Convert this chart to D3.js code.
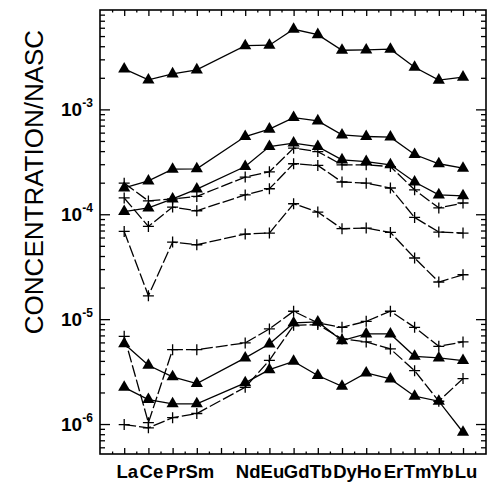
<!DOCTYPE html>
<html>
<head>
<meta charset="utf-8">
<script src="https://cdn.jsdelivr.net/npm/d3@7"></script>
<style>
  body { margin: 0; background: #fff; }
  text { font-family: Arial, "Liberation Sans", sans-serif; fill: #000; }
</style>
</head>
<body>
<div id="chart"></div>
<script>
// rare earth labels and their slot along the axis (slot 4 is left empty)
const elements = ["La", "Ce", "Pr", "Sm", "Nd", "Eu", "Gd", "Tb", "Dy", "Ho", "Er", "Tm", "Yb", "Lu"];
const slots = [0, 1, 2, 3, 5, 6, 7, 8, 9, 10, 11, 12, 13, 14];
const decades = [1e-6, 1e-5, 1e-4, 1e-3];

// triangle series
const tri1 = [2.43e-3, 1.91e-3, 2.18e-3, 2.38e-3, 4.05e-3, 4.09e-3, 5.8e-3, 5.16e-3, 3.66e-3, 3.69e-3, 3.75e-3, 2.52e-3, 1.9e-3, 2.03e-3];
const tri2 = [1.78e-4, 2.08e-4, 2.69e-4, 2.71e-4, 5.51e-4, 6.48e-4, 8.35e-4, 7.77e-4, 5.71e-4, 5.51e-4, 5.44e-4, 3.71e-4, 3.03e-4, 2.75e-4];
const tri3 = [1.06e-4, 1.15e-4, 1.4e-4, 1.74e-4, 2.85e-4, 4.42e-4, 4.77e-4, 4.42e-4, 3.3e-4, 3.18e-4, 2.96e-4, 2.03e-4, 1.53e-4, 1.5e-4];
const tri4 = [5.84e-6, 3.63e-6, 2.82e-6, 2.43e-6, 4.27e-6, 5.8e-6, 9.2e-6, 9.4e-6, 6.24e-6, 7.23e-6, 7.23e-6, 4.42e-6, 4.27e-6, 4.03e-6];
const tri5 = [2.24e-6, 1.71e-6, 1.56e-6, 1.56e-6, 2.47e-6, 3.3e-6, 3.96e-6, 2.9e-6, 2.29e-6, 3.07e-6, 2.69e-6, 1.84e-6, 1.65e-6, 8.35e-7];

// plus series
const plus1 = [1.98e-4, 1.34e-4, 1.4e-4, 1.48e-4, 2.26e-4, 2.54e-4, 4.27e-4, 3.96e-4, 2.96e-4, 2.96e-4, 2.85e-4, 1.71e-4, 1.15e-4, 1.28e-4];
const plus2 = [1.43e-4, 7.65e-5, 1.17e-4, 1.08e-4, 1.53e-4, 1.75e-4, 3.03e-4, 2.92e-4, 2.03e-4, 1.98e-4, 1.78e-4, 9.32e-5, 6.77e-5, 6.62e-5];
const plus3 = [6.86e-5, 1.67e-5, 5.43e-5, 5.12e-5, 6.48e-5, 6.62e-5, 1.26e-4, 1.05e-4, 7.28e-5, 7.39e-5, 6.71e-5, 3.83e-5, 2.26e-5, 2.65e-5];
const plus4 = [6.86e-6, 1.03e-6, 5.12e-6, 5.12e-6, 5.93e-6, 8.07e-6, 1.19e-5, 9.2e-6, 8.35e-6, 9.53e-6, 1.19e-5, 8.35e-6, 5.51e-6, 6.07e-6];
const plus5 = [9.89e-7, 9.2e-7, 1.15e-6, 1.26e-6, 2.24e-6, 4.05e-6, 8.73e-6, 8.87e-6, 6.48e-6, 6.07e-6, 5.2e-6, 3.23e-6, 1.65e-6, 2.71e-6];

const series = [
    { values: tri1, mark: "tri" }, { values: tri2, mark: "tri" }, { values: tri3, mark: "tri" },
    { values: tri4, mark: "tri" }, { values: tri5, mark: "tri" },
    { values: plus1, mark: "plus" }, { values: plus2, mark: "plus" }, { values: plus3, mark: "plus" },
    { values: plus4, mark: "plus" }, { values: plus5, mark: "plus" }
];

const width = 487, height = 484;
const plotLeft = 100, plotRight = 486, plotTop = 10, plotBottom = 454;

const svg = d3.select("#chart").append("svg")
    .attr("width", width)
    .attr("height", height);

const x = d3.scaleLinear().domain([-1, 14.95]).range([plotLeft, plotRight]);
const y = d3.scaleLog().domain([5.18e-7, 8.86e-3]).range([plotBottom, plotTop]);

// minor ticks on the log axis: 2..9 of every decade inside the domain
const minorY = [];
[1e-7, 1e-6, 1e-5, 1e-4, 1e-3].forEach(d => {
    for (let k = 2; k <= 9; k++) {
        const v = d * k;
        if (v >= y.domain()[0] && v <= y.domain()[1]) minorY.push(v);
    }
});
const majorX = d3.range(0, 15);
const minorX = d3.range(-0.5, 15, 1);

function axisG(axis, tx, ty) {
    const g = svg.append("g").attr("transform", `translate(${tx},${ty})`).call(axis);
    g.select(".domain").remove();
    g.selectAll("line").attr("stroke", "#000").attr("stroke-width", 1.3);
    return g;
}

// y ticks, pointing inward on both sides
axisG(d3.axisLeft(y).tickValues(decades).tickSize(-10).tickFormat(""), plotLeft, 0);
axisG(d3.axisLeft(y).tickValues(minorY).tickSize(-5).tickFormat(""), plotLeft, 0);
axisG(d3.axisRight(y).tickValues(decades).tickSize(-10).tickFormat(""), plotRight, 0);
axisG(d3.axisRight(y).tickValues(minorY).tickSize(-5).tickFormat(""), plotRight, 0);

// x ticks, pointing inward top and bottom
axisG(d3.axisBottom(x).tickValues(majorX).tickSize(-6).tickFormat(""), 0, plotBottom);
axisG(d3.axisBottom(x).tickValues(minorX).tickSize(-2.5).tickFormat(""), 0, plotBottom);
axisG(d3.axisTop(x).tickValues(majorX).tickSize(-6).tickFormat(""), 0, plotTop);
axisG(d3.axisTop(x).tickValues(minorX).tickSize(-2.5).tickFormat(""), 0, plotTop);

// frame
svg.append("rect")
    .attr("x", plotLeft).attr("y", plotTop)
    .attr("width", plotRight - plotLeft).attr("height", plotBottom - plotTop)
    .attr("fill", "none").attr("stroke", "#000").attr("stroke-width", 1.6);

// y tick labels as 10 with a superscript exponent
const yl = svg.append("g").selectAll("text")
    .data(decades)
    .enter().append("text")
    .attr("x", 61)
    .attr("y", d => y(d) + 7)
    .attr("font-weight", "bold")
    .attr("font-size", 19);
yl.append("tspan").text("10");
yl.append("tspan")
    .attr("font-size", 12)
    .attr("dy", -9)
    .text(d => Math.round(Math.log10(d)));

// x labels, packed tight like the original
svg.append("g").selectAll("text")
    .data(elements)
    .enter().append("text")
    .attr("x", (d, i) => x(slots[i]) + 3)
    .attr("y", 478)
    .attr("text-anchor", "middle")
    .attr("font-weight", "bold")
    .attr("font-size", 18.5)
    .text(d => d);

// axis title
svg.append("text")
    .attr("transform", "translate(43,182) rotate(-90)")
    .attr("text-anchor", "middle")
    .attr("font-size", 26)
    .text("CONCENTRATION/NASC");

const line = d3.line()
    .x((d, i) => x(slots[i]))
    .y(d => y(d));

const triangle = d3.symbol().type(d3.symbolTriangle).size(64);

series.forEach(s => {
    svg.append("path")
        .datum(s.values)
        .attr("d", line)
        .attr("fill", "none")
        .attr("stroke", "#000")
        .attr("stroke-width", 1.3)
        .attr("stroke-dasharray", s.mark === "plus" ? "12,3" : null);

    const pts = svg.append("g").selectAll("path")
        .data(s.values)
        .enter().append("path")
        .attr("transform", (d, i) => `translate(${x(slots[i])},${y(d)})`);

    if (s.mark === "tri") {
        pts.attr("d", triangle).attr("fill", "#000");
    } else {
        pts.attr("d", "M-5.5,0H5.5M0,-5.5V5.5")
            .attr("fill", "none")
            .attr("stroke", "#000")
            .attr("stroke-width", 1.3);
    }
});
</script>
</body>
</html>
